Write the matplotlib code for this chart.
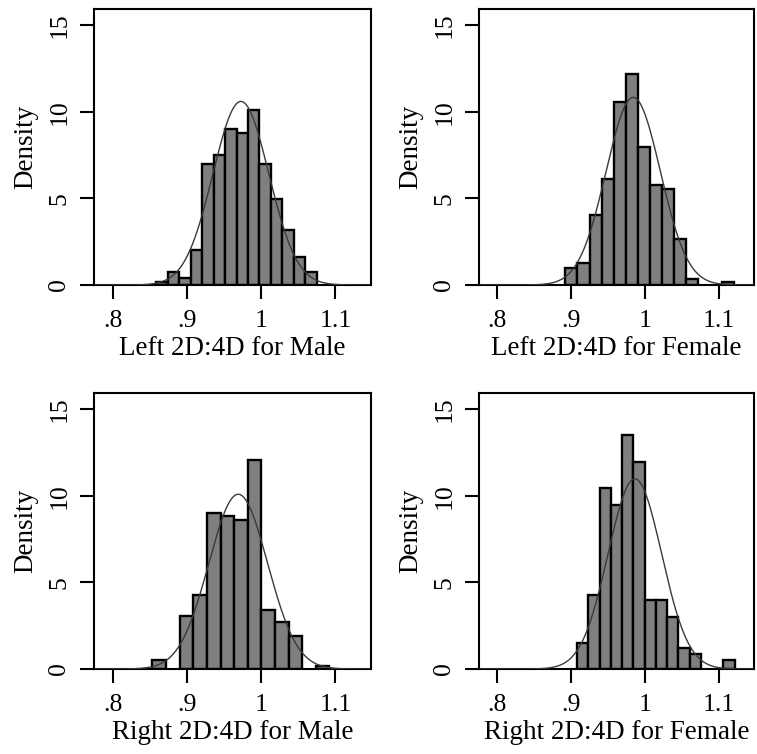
import numpy as np
import matplotlib
matplotlib.use("Agg")
import matplotlib.pyplot as plt

# Histogram densities per group (bins of equal width starting at bin_start)
left_male_start, left_male_width = 0.8587, 0.01546
left_male_density = [0.2, 0.75, 0.4, 2.0, 7.0, 7.5, 9.0, 8.8, 10.1, 7.0, 4.95, 3.15, 1.6, 0.75]
left_male_mean, left_male_sd = 0.9728, 0.0376

left_female_start, left_female_width = 0.8923, 0.01629
left_female_density = [1.0, 1.27, 4.05, 6.1, 10.6, 12.2, 8.0, 5.77, 5.54, 2.65, 0.37, 0.0, 0.0, 0.2]
left_female_mean, left_female_sd = 0.9842, 0.0368

right_male_start, right_male_width = 0.8537, 0.01833
right_male_density = [0.5, 0.0, 3.04, 4.3, 9.0, 8.86, 8.6, 12.05, 3.43, 2.73, 1.93, 0.0, 0.2]
right_male_mean, right_male_sd = 0.9692, 0.0395

right_female_start, right_female_width = 0.9081, 0.01525
right_female_density = [1.5, 4.3, 10.45, 9.46, 13.5, 11.98, 3.98, 3.98, 3.0, 1.22, 0.85, 0.0, 0.0, 0.52]
right_female_mean, right_female_sd = 0.9864, 0.0363

x_labels = ["Left 2D:4D for Male", "Left 2D:4D for Female",
            "Right 2D:4D for Male", "Right 2D:4D for Female"]
x_ticks = [0.8, 0.9, 1.0, 1.1]
x_tick_labels = [".8", ".9", "1", "1.1"]
y_ticks = [0, 5, 10, 15]

panels = [
    (left_male_start, left_male_width, left_male_density, left_male_mean, left_male_sd),
    (left_female_start, left_female_width, left_female_density, left_female_mean, left_female_sd),
    (right_male_start, right_male_width, right_male_density, right_male_mean, right_male_sd),
    (right_female_start, right_female_width, right_female_density, right_female_mean, right_female_sd),
]

W, H = 757, 754
fig = plt.figure(figsize=(W / 100, H / 100), dpi=100)
plt.rcParams["font.family"] = ["Liberation Serif", "DejaVu Serif"]

# axes boxes in pixel coordinates: left, top, right, bottom
boxes = [(94, 9, 371, 285), (479, 9, 754, 285),
         (94, 393, 371, 669), (479, 393, 754, 669)]

for (start, width, dens, mu, sd), (l, t, r, b), xlab in zip(panels, boxes, x_labels):
    ax = fig.add_axes([l / W, 1 - b / H, (r - l) / W, (b - t) / H])
    dens = np.asarray(dens)
    edges = start + width * np.arange(len(dens))
    keep = dens > 0
    ax.bar(edges[keep], dens[keep], width=width, align="edge",
           color="#7f7f7f", edgecolor="black", linewidth=1.7, zorder=2)
    xs = np.linspace(0.775, 1.148, 400)
    pdf = np.exp(-0.5 * ((xs - mu) / sd) ** 2) / (sd * np.sqrt(2 * np.pi))
    ax.plot(xs, pdf, color="#3a3a3a", linewidth=1.0, zorder=3)
    ax.set_xlim(0.775, 1.148)
    ax.set_ylim(0, 15.95)
    ax.set_xticks(x_ticks)
    ax.set_xticklabels(x_tick_labels, fontsize=18.5)
    ax.set_yticks(y_ticks)
    ax.set_yticklabels([str(v) for v in y_ticks], fontsize=18.5,
                       rotation=90, va="center")
    ax.tick_params(axis="both", direction="out", length=10, width=1.5,
                   colors="black")
    ax.tick_params(axis="y", pad=7)
    ax.tick_params(axis="x", pad=8)
    for s in ax.spines.values():
        s.set_linewidth(1.5)
    ax.set_xlabel(xlab, fontsize=19.5, labelpad=3)
    ax.set_ylabel("Density", fontsize=19.5, labelpad=7)

fig.savefig("out.png", dpi=100)
